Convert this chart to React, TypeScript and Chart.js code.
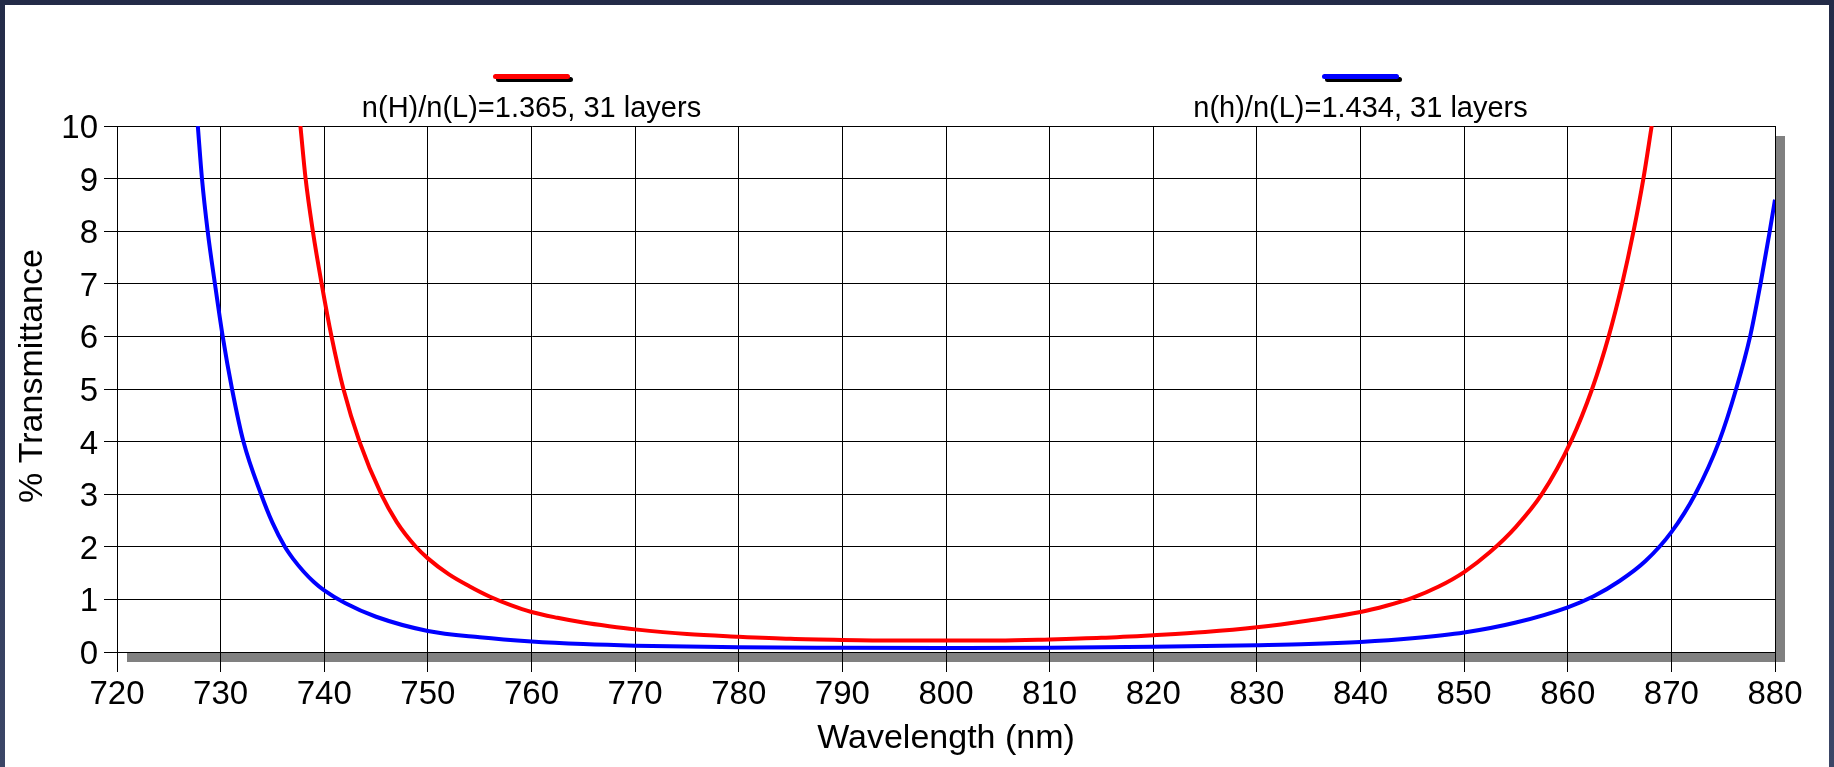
import React, { useEffect, useRef } from "react";
import { Chart, registerables } from "chart.js";

Chart.register(...registerables);

// ---- axes ----
const X_MIN = 720;
const X_MAX = 880;
const X_STEP = 10;
const Y_MIN = 0;
const Y_MAX = 10;
const Y_STEP = 1;
const X_TITLE = "Wavelength (nm)";
const Y_TITLE = "% Transmittance";

// ---- series 1 (red) ----
const redLabel = "n(H)/n(L)=1.365, 31 layers";
const redWavelength = [
  737.7, 738.2, 738.9, 739.75, 740.7, 741.85, 743.4, 745.5, 747, 748.8, 750, 752, 754, 756, 758, 760, 762.5,
  765, 767.5, 770, 775, 780, 785, 790, 795, 800, 805, 810, 815, 820, 825, 830, 835, 840, 842.5, 845,
  847.5, 850, 852.5, 855, 857.5, 860.3, 862.35, 863.95, 865.25, 866.35, 867.3, 868.1,
];
const redTransmittance = [
  10, 9, 8, 7, 6, 5, 4, 3, 2.47, 2.01, 1.78, 1.48, 1.25, 1.05, 0.89, 0.76, 0.65,
  0.56, 0.49, 0.43, 0.34, 0.29, 0.25, 0.23, 0.22, 0.22, 0.22, 0.24, 0.27, 0.32, 0.38, 0.47, 0.6, 0.76, 0.88, 1.03,
  1.24, 1.52, 1.9, 2.38, 3.0, 4.0, 5.0, 6.0, 7.0, 8.0, 9.0, 10,
];

// ---- series 2 (blue) ----
const blueLabel = "n(h)/n(L)=1.434, 31 layers";
const blueWavelength = [
  727.8, 728.2, 728.75, 729.45, 730.2, 731.1, 732.2, 733.9, 735, 736.2, 737, 738, 739, 740, 742, 745, 750,
  755, 760, 765, 770, 780, 790, 800, 810, 820, 830, 835, 840, 845, 850, 855, 860, 862.5, 865, 867.5, 870,
  872.3, 874.6, 876.25, 877.6, 878.6, 879.45, 880,
];
const blueTransmittance = [
  10, 9, 8, 7, 6, 5, 4, 3, 2.46, 2, 1.77, 1.53, 1.33, 1.17, 0.93, 0.67, 0.4,
  0.28, 0.2, 0.15, 0.12, 0.09, 0.08, 0.075, 0.08, 0.1, 0.13, 0.15, 0.19, 0.26, 0.37, 0.56, 0.85, 1.06, 1.35, 1.73, 2.28,
  3.0, 4.0, 5.0, 6.0, 7.0, 7.95, 8.6,
];

const FONT = "'Liberation Sans', Arial, sans-serif";

const toPoints = (xs: number[], ys: number[]) => xs.map((x, i) => ({ x, y: ys[i] }));

const frame = {
  id: "frame",
  beforeDraw(chart: any) {
    const { ctx, chartArea: a } = chart;
    ctx.save();
    ctx.fillStyle = "#808080";
    ctx.fillRect(a.left + 10, a.top + 10, a.right - a.left, a.bottom - a.top);
    ctx.fillStyle = "#ffffff";
    ctx.fillRect(a.left, a.top, a.right - a.left, a.bottom - a.top);
    ctx.restore();
  },
  afterDraw(chart: any) {
    const { ctx, chartArea: a } = chart;
    const w = a.right - a.left;
    ctx.save();
    // legend
    chart.data.datasets.forEach((ds: any, i: number) => {
      const cx = a.left + (w * (2 * i + 1)) / 4;
      ctx.lineCap = "round";
      ctx.lineWidth = 5;
      ctx.strokeStyle = "#000000";
      ctx.beginPath();
      ctx.moveTo(cx - 36 + 3, 79.5);
      ctx.lineTo(cx + 36 + 3, 79.5);
      ctx.stroke();
      ctx.strokeStyle = ds.borderColor;
      ctx.beginPath();
      ctx.moveTo(cx - 36, 76.5);
      ctx.lineTo(cx + 36, 76.5);
      ctx.stroke();
      ctx.fillStyle = "#000000";
      ctx.font = `29px ${FONT}`;
      ctx.textAlign = "center";
      ctx.textBaseline = "alphabetic";
      ctx.fillText(ds.label, cx, 117);
    });
    // y axis title
    ctx.translate(42, (a.top + a.bottom) / 2 - 13);
    ctx.rotate(-Math.PI / 2);
    ctx.fillStyle = "#000000";
    ctx.font = `34px ${FONT}`;
    ctx.textAlign = "center";
    ctx.textBaseline = "alphabetic";
    ctx.fillText(Y_TITLE, 0, 0);
    ctx.restore();
  },
};

export default function App() {
  const ref = useRef<HTMLCanvasElement | null>(null);

  useEffect(() => {
    if (!ref.current) return;
    const chart = new Chart(ref.current, {
      type: "line",
      data: {
        datasets: [
          {
            label: redLabel,
            data: toPoints(redWavelength, redTransmittance),
            borderColor: "#ff0000",
            backgroundColor: "#ff0000",
            borderWidth: 4,
            pointRadius: 0,
            cubicInterpolationMode: "monotone",
            fill: false,
          },
          {
            label: blueLabel,
            data: toPoints(blueWavelength, blueTransmittance),
            borderColor: "#0000ff",
            backgroundColor: "#0000ff",
            borderWidth: 4,
            pointRadius: 0,
            cubicInterpolationMode: "monotone",
            fill: false,
          },
        ],
      },
      options: {
        responsive: false,
        animation: false,
        devicePixelRatio: 1,
        layout: { padding: { top: 126, right: 59, left: 0, bottom: 0 } },
        plugins: {
          legend: { display: false },
          tooltip: { enabled: false },
          title: { display: false },
        },
        scales: {
          x: {
            type: "linear",
            min: X_MIN,
            max: X_MAX,
            afterFit: (s: any) => {
              s.height = 115;
            },
            ticks: {
              stepSize: X_STEP,
              color: "#000000",
              font: { family: FONT, size: 33 },
              padding: 3,
              maxRotation: 0,
              autoSkip: false,
            },
            grid: { color: "#000000", lineWidth: 1, tickLength: 20, tickColor: "#000000" },
            border: { display: true, color: "#000000", width: 1 },
            title: {
              display: true,
              text: X_TITLE,
              color: "#000000",
              font: { family: FONT, size: 34 },
              padding: { top: 0, bottom: 8 },
            },
          },
          y: {
            type: "linear",
            min: Y_MIN,
            max: Y_MAX,
            afterFit: (s: any) => {
              s.width = 117;
            },
            ticks: {
              stepSize: Y_STEP,
              color: "#000000",
              font: { family: FONT, size: 33 },
              padding: 6,
              labelOffset: 3,
              autoSkip: false,
            },
            grid: { color: "#000000", lineWidth: 1, tickLength: 13, tickColor: "#000000" },
            border: { display: true, color: "#000000", width: 1 },
          },
        },
      },
      plugins: [frame],
    });
    return () => chart.destroy();
  }, []);

  return (
    <div
      style={{
        position: "fixed",
        left: 0,
        top: 0,
        width: 1834,
        height: 767,
        background: "linear-gradient(#232b48, #3b4667)",
      }}
    >
      <div
        style={{
          position: "absolute",
          left: 5,
          top: 5,
          width: 1824,
          height: 762,
          background: "#ffffff",
        }}
      />
      <canvas
        ref={ref}
        width={1834}
        height={767}
        style={{ position: "absolute", left: 0, top: 0, display: "block" }}
      />
    </div>
  );
}
